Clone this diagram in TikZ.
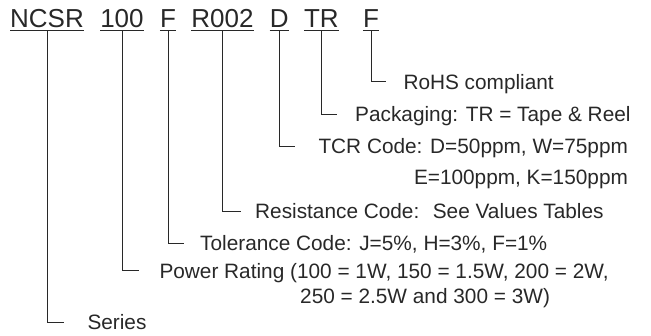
\documentclass[tikz,border=0pt]{standalone}
\usepackage{fontspec}
\setmainfont{Liberation Sans}
\usepackage{tikz}
\usetikzlibrary{positioning}
\definecolor{ink}{RGB}{40,40,40}

\begin{document}
\begin{tikzpicture}[x=1pt, y=-1pt, node distance=16pt]
	\tikzstyle{code} = [inner xsep=0pt, inner ysep=3.5pt, text height=19pt, text depth=0pt, text=ink, font=\fontsize{26}{30}\selectfont]
	\tikzstyle{lab} = [inner sep=0pt, anchor=west, text height=15pt, text depth=0pt, text=ink, font=\fontsize{20.8}{25}\selectfont]
	\tikzstyle{link} = [draw=ink, line width=0.9pt]
	\tikzstyle{elbow} = [to path={(\tikztostart.south) |- (\tikztotarget.west)}]

	\useasboundingbox (0,0) rectangle (651,335);

	% part number
	\node[code, anchor=west] (ncsr) at (10,17.5) {NCSR};
	\node[code, right=of ncsr] (pwr) {100};
	\node[code, right=of pwr] (tol) {F};
	\node[code, right=15pt of tol] (res) {R002};
	\node[code, right=of res] (tcr) {D};
	\node[code, right=15pt of tcr] (pkg) {TR};
	\node[code, right=24pt of pkg] (rohs) {F};
	\foreach \n in {ncsr,pwr,tol,res,tcr,pkg,rohs}
		\draw[link] (\n.south west) -- (\n.south east);

	% meanings
	\node[lab] (rohslab) at (403.3,81.5) {RoHS compliant};
	\node[lab] (pkglab) at (355,114.3) {Packaging: TR = Tape \& Reel};
	\node[lab] (tcrlab) at (318.3,146) {TCR Code: D=50ppm, W=75ppm};
	\node[lab, below left=16pt and 0pt of tcrlab.south east] (tcrlab2) {E=100ppm, K=150ppm};
	\node[lab] (reslab) at (255,211) {Resistance Code:~ See Values Tables};
	\node[lab] (tollab) at (200,243) {Tolerance Code: J=5\%, H=3\%, F=1\%};
	\node[lab] (pwrlab) at (159.3,270.5) {Power Rating (100 = 1W, 150 = 1.5W, 200 = 2W,};
	\node[lab] (pwrlab2) at (300,295.5) {250 = 2.5W and 300 = 3W)};
	\node[lab] (series) at (87.3,322.3) {Series};

	\path[link]
		(rohs) edge[elbow, shorten >=17pt] (rohslab)
		(pkg) edge[elbow, shorten >=18pt] (pkglab)
		(tcr) edge[elbow, shorten >=23pt] (tcrlab)
		(res) edge[elbow, shorten >=14pt] (reslab)
		(tol) edge[elbow, shorten >=16pt] (tollab)
		(pwr) edge[elbow, shorten >=20pt] (pwrlab)
		(ncsr) edge[elbow, shorten >=23pt] (series)
		;
\end{tikzpicture}
\end{document}
